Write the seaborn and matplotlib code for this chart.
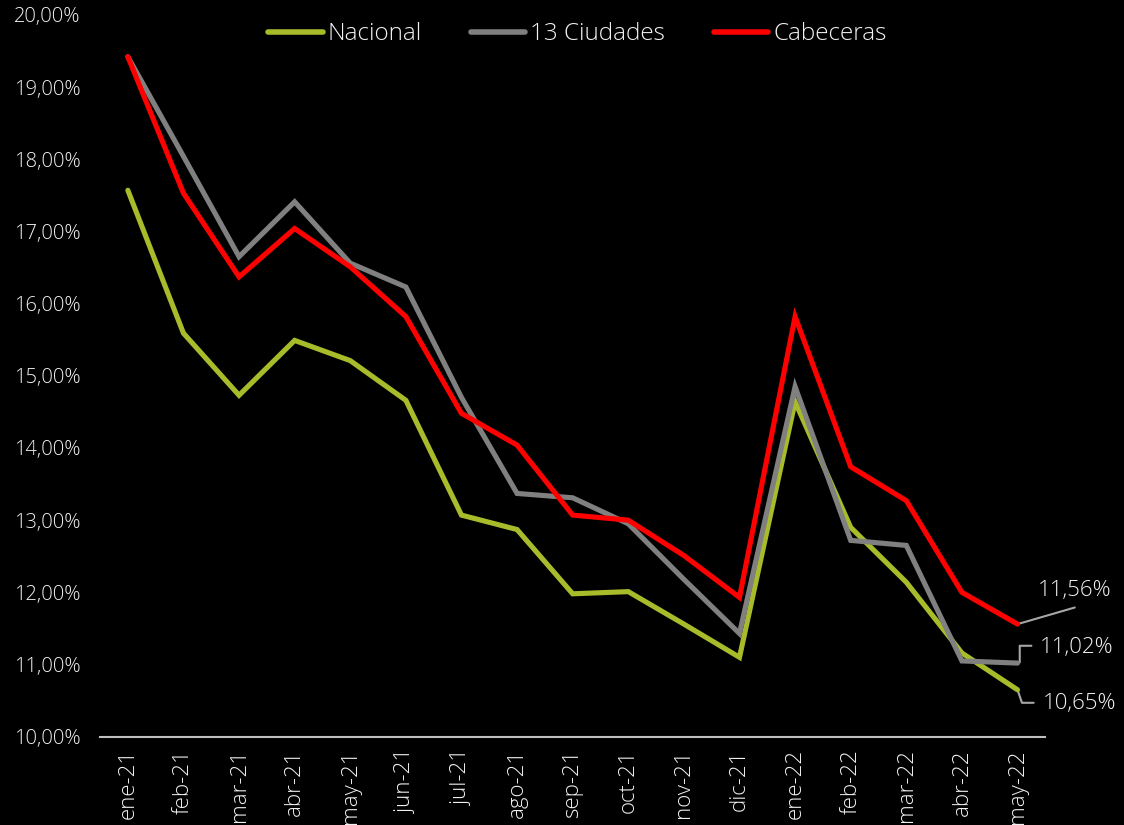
import numpy as np
import pandas as pd
import matplotlib
matplotlib.use("Agg")
import matplotlib.pyplot as plt
import seaborn as sns

# Monthly unemployment rates (%)
months = ["ene-21", "feb-21", "mar-21", "abr-21", "may-21", "jun-21", "jul-21",
          "ago-21", "sep-21", "oct-21", "nov-21", "dic-21", "ene-22", "feb-22",
          "mar-22", "abr-22", "may-22"]
nacional = [17.57, 15.59, 14.73, 15.49, 15.21, 14.66, 13.07, 12.87, 11.98,
            12.01, 11.56, 11.10, 14.64, 12.90, 12.14, 11.16, 10.65]
ciudades13 = [19.42, 18.04, 16.65, 17.41, 16.56, 16.23, 14.70, 13.37, 13.31,
              12.95, 12.18, 11.43, 14.85, 12.72, 12.65, 11.05, 11.02]
cabeceras = [19.42, 17.53, 16.37, 17.04, 16.51, 15.82, 14.48, 14.04, 13.07,
             13.00, 12.51, 11.93, 15.82, 13.74, 13.27, 12.00, 11.56]
series_names = ["Nacional", "13 Ciudades", "Cabeceras"]
colors = ["#a8bb2a", "#808080", "#ff0000"]

df = pd.DataFrame({
    "mes": np.tile(np.arange(len(months)), 3),
    "tasa": nacional + ciudades13 + cabeceras,
    "serie": np.repeat(series_names, len(months)),
})

sns.set_style("dark")
plt.rcParams["font.family"] = ["Open Sans", "DejaVu Sans"]
text_color = "#f2f2f2"
font_weight = "light"

fig = plt.figure(figsize=(11.24, 8.25), dpi=100, facecolor="black")
ax = fig.add_axes([0.089, 0.107, 0.841, 0.875])
ax.set_facecolor("black")

sns.lineplot(data=df, x="mes", y="tasa", hue="serie", hue_order=series_names,
             palette=colors, linewidth=3.7, ax=ax, legend=False,
             solid_capstyle="round", solid_joinstyle="miter")

yticks = np.arange(10, 20.01, 1)
ax.set_ylim(10, 20)
ax.set_xlim(-0.5, len(months) - 0.5)
ax.set_yticks(yticks)
ax.set_yticklabels([f"{v:.2f}%".replace(".", ",") for v in yticks],
                   color=text_color, fontsize=14.5, fontweight=font_weight)
ax.set_xticks(np.arange(len(months)))
ax.set_xticklabels(months, rotation=90, color=text_color, fontsize=16,
                   fontweight=font_weight)
ax.set_xticks(np.arange(-0.5, len(months), 1), minor=True)
ax.tick_params(axis="x", which="major", length=0, pad=9)
ax.tick_params(axis="x", which="minor", length=7, width=1.5, color="#bfbfbf", direction="out")
ax.tick_params(axis="y", length=0, pad=14)
ax.set_xlabel("")
ax.set_ylabel("")
ax.grid(False)
for side in ["top", "right", "left"]:
    ax.spines[side].set_visible(False)
ax.spines["bottom"].set_color("#bfbfbf")
ax.spines["bottom"].set_linewidth(1.5)

# Legend across the top
handles = [plt.Line2D([0], [0], color=c, linewidth=4, solid_capstyle="round") for c in colors]
leg = ax.legend(handles, series_names, loc="upper center", bbox_to_anchor=(0.505, 1.02),
                ncol=3, frameon=False, prop={"size": 17.5, "weight": font_weight},
                handlelength=2.25, handletextpad=0.2, columnspacing=2.0)
for t in leg.get_texts():
    t.set_color(text_color)

# End-of-series value labels with leader lines
last = len(months) - 1
leader = "#a6a6a6"
end_labels = [
    (cabeceras[last], (last + 0.36, 12.02),
     [(last, cabeceras[last]), (last + 1.03, 11.79)]),
    (ciudades13[last], (last + 0.40, 11.24),
     [(last, ciudades13[last]), (last + 0.04, 11.03), (last + 0.04, 11.26), (last + 0.25, 11.26)]),
    (nacional[last], (last + 0.45, 10.46),
     [(last, nacional[last]), (last + 0.08, 10.47), (last + 0.29, 10.47)]),
]
for val, (tx, ty), pts in end_labels:
    xs, ys = zip(*pts)
    ax.plot(xs, ys, color=leader, linewidth=1.5, clip_on=False, zorder=1)
    ax.text(tx, ty, f"{val:.2f}%".replace(".", ","), color=text_color, fontsize=16,
            fontweight=font_weight, ha="left", va="center", clip_on=False)

fig.savefig("out.png", dpi=100, facecolor="black")
